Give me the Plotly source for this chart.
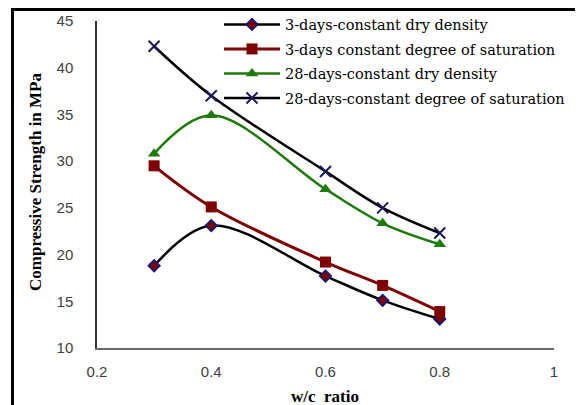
import plotly.graph_objects as go

# ---- data ----
wc_ratio = [0.3, 0.4, 0.6, 0.7, 0.8]
d3_dry_density = [18.8, 23.1, 17.7, 15.1, 13.1]
d3_saturation = [29.5, 25.1, 19.2, 16.7, 13.9]
d28_dry_density = [30.8, 34.9, 27.0, 23.35, 21.1]
d28_saturation = [42.3, 37.0, 28.9, 25.0, 22.3]

names = [
    "3-days-constant dry density",
    "3-days constant degree of saturation",
    "28-days-constant dry density",
    "28-days-constant degree of saturation",
]
x_ticks = [0.2, 0.4, 0.6, 0.8, 1]
x_tick_text = ["0.2", "0.4", "0.6", "0.8", "1"]
y_ticks = [10, 15, 20, 25, 30, 35, 40, 45]

# page body has an 8px default margin
OFF = 8
W, H = 583 - OFF, 405 - OFF
# target plot area in screen pixels: x 97..554, y 21..348
ML, MT = 97 - OFF, 21 - OFF
MR, MB = 583 - 554, 405 - 348
PW, PH = W - ML - MR, H - MT - MB

def px_x(sx):
    return (sx - OFF - ML) / PW

def px_y(sy):
    return (H - MB - (sy - OFF)) / PH

fig = go.Figure()

fig.add_trace(go.Scatter(
    x=wc_ratio, y=d3_dry_density, name=names[0], mode="lines+markers",
    legend="legend",
    line=dict(color="black", width=2.5, shape="spline", smoothing=1),
    marker=dict(symbol="diamond", size=9, color="#7a0000",
                line=dict(color="#0a1a8a", width=1.5)),
))
fig.add_trace(go.Scatter(
    x=wc_ratio, y=d3_saturation, name=names[1], mode="lines+markers",
    legend="legend2",
    line=dict(color="#7f0000", width=3, shape="spline", smoothing=1),
    marker=dict(symbol="square", size=11, color="#7f0000"),
))
fig.add_trace(go.Scatter(
    x=wc_ratio, y=d28_dry_density, name=names[2], mode="lines+markers",
    legend="legend3",
    line=dict(color="#1f7a0c", width=2.5, shape="spline", smoothing=1),
    marker=dict(symbol="triangle-up", size=11, color="#1f7a0c"),
))
fig.add_trace(go.Scatter(
    x=wc_ratio, y=d28_saturation, name=names[3], mode="lines+markers",
    legend="legend4",
    line=dict(color="black", width=2.5, shape="spline", smoothing=1),
    marker=dict(symbol="x-thin", size=11, color="#1c1760",
                line=dict(color="#1c1760", width=2)),
))

def leg(row_y):
    return dict(
        x=px_x(219), y=px_y(row_y), xanchor="left", yanchor="middle",
        bgcolor="rgba(0,0,0,0)",
        font=dict(family="DejaVu Serif", size=14.5, color="black"),
        itemwidth=56,
    )

fig.update_layout(
    width=W, height=H,
    margin=dict(l=ML, r=MR, t=MT, b=MB, autoexpand=False),
    paper_bgcolor="white", plot_bgcolor="white",
    showlegend=True,
    legend=leg(24.5),
    legend2=leg(49),
    legend3=leg(73.5),
    legend4=leg(98),
    xaxis=dict(
        range=[0.2, 1], tickvals=x_ticks, ticktext=x_tick_text,
        showgrid=False, zeroline=False,
        showline=True, linecolor="#6a6a6a", linewidth=1.5,
        ticks="", ticklabelstandoff=9,
        tickfont=dict(family="Liberation Sans", size=15, color="#404040"),
    ),
    yaxis=dict(
        range=[10, 45], tickvals=y_ticks,
        showgrid=False, zeroline=False,
        showline=True, linecolor="#333333", linewidth=1.5,
        ticks="", ticklabelstandoff=19,
        tickfont=dict(family="Liberation Sans", size=15, color="#404040"),
    ),
    annotations=[
        dict(text="<b>Compressive Strength in MPa</b>", xref="paper", yref="paper",
             x=px_x(35), y=px_y(182), textangle=-90, showarrow=False,
             xanchor="center", yanchor="middle",
             font=dict(family="Liberation Serif", size=17, color="black")),
        dict(text="<b>w/c  ratio</b>", xref="paper", yref="paper",
             x=px_x(325), y=px_y(396), showarrow=False,
             xanchor="center", yanchor="middle",
             font=dict(family="Liberation Serif", size=17, color="black")),
    ],
    shapes=[
        dict(type="rect", xref="paper", yref="paper",
             x0=px_x(12.5), x1=px_x(600), y0=px_y(420), y1=px_y(9.5),
             line=dict(color="black", width=3), fillcolor="rgba(0,0,0,0)",
             layer="above"),
    ],
)

fig.write_html("out.html")
